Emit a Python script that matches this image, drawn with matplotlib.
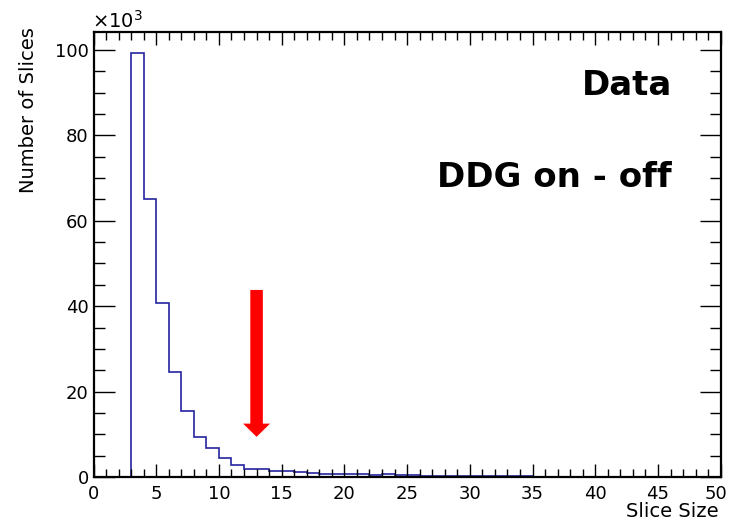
import numpy as np
import matplotlib
matplotlib.use('Agg')
import matplotlib.pyplot as plt
from matplotlib.ticker import MultipleLocator, FuncFormatter

plt.rcParams['font.family'] = ['DejaVu Sans']
plt.rcParams['mathtext.fontset'] = 'dejavusans'

# slice size histogram, bins of width 1 from 0 to 50 (counts in units of 1000)
edges = np.arange(0, 51, 1)
counts_k = [0, 0, 0, 99.2, 65.1, 40.7, 24.5, 15.5, 9.4, 6.9,
            4.4, 2.8, 1.9, 1.8, 1.35, 1.4, 1.2, 0.95, 0.8, 0.75,
            0.7, 0.65, 0.45, 0.6, 0.5, 0.4, 0.35, 0.3, 0.3, 0.25,
            0.2, 0.2, 0.15, 0.15, 0.12, 0.1, 0.1, 0.08, 0.07, 0.06,
            0.05, 0.04, 0.04, 0.03, 0.03, 0.02, 0.02, 0.02, 0.01, 0.01]
arrow_x = 13.0
arrow_top = 43.8
arrow_tip = 9.4

W, H = 729, 523
fig = plt.figure(figsize=(W / 100, H / 100), dpi=100)
ax = fig.add_axes([93.5 / W, 1 - 477 / H, (720.7 - 93.5) / W, (477 - 32) / H])

ax.stairs(counts_k, edges, color='#2424a0', lw=1.2, baseline=0)

xmax = 50
ax.set_xlim(0, xmax)
ax.set_ylim(0, 104.2)

ax.xaxis.set_major_locator(MultipleLocator(5))
ax.xaxis.set_minor_locator(MultipleLocator(1))
ax.yaxis.set_major_locator(MultipleLocator(20))
ax.yaxis.set_minor_locator(MultipleLocator(5))
# last x label drawn separately so it stays inside the picture
ax.xaxis.set_major_formatter(FuncFormatter(lambda v, p: '' if v >= xmax else '%d' % v))
ax.tick_params(axis='both', which='both', direction='in', top=True, right=True,
               labelsize=13, width=1.0, color='black')
ax.tick_params(axis='x', which='major', length=9.5, pad=5.5)
ax.tick_params(axis='x', which='minor', length=5.5)
ax.tick_params(axis='y', which='major', length=15, pad=3.5)
ax.tick_params(axis='y', which='minor', length=8)
for s in ax.spines.values():
    s.set_linewidth(1.6)
ax.annotate('%d' % xmax, xy=(xmax, 0), xycoords=('data', 'axes fraction'),
            xytext=(-3.5, -5.5), textcoords='offset points',
            ha='center', va='top', fontsize=13)

# red arrow
ax.arrow(arrow_x, arrow_top, 0, arrow_tip - arrow_top, width=1.0,
         head_width=2.15, head_length=3.1, length_includes_head=True,
         color='#ff0000', lw=0)

fig.text(29 / W, 1 - 27 / H, 'Number of Slices', rotation=90,
         ha='center', va='top', fontsize=14)
fig.text(719 / W, 1 - 517 / H, 'Slice Size', ha='right', va='baseline', fontsize=14)
fig.text(92 / W, 1 - 28 / H, r'$\times10^{3}$', ha='left',
         va='baseline', fontsize=14)

fig.text(672 / W, 1 - 95 / H, 'Data', ha='right', va='baseline',
         fontsize=24.5, fontweight='bold')
fig.text(672 / W, 1 - 187 / H, 'DDG on - off', ha='right', va='baseline',
         fontsize=24.5, fontweight='bold')

fig.savefig('out.png', dpi=100)
